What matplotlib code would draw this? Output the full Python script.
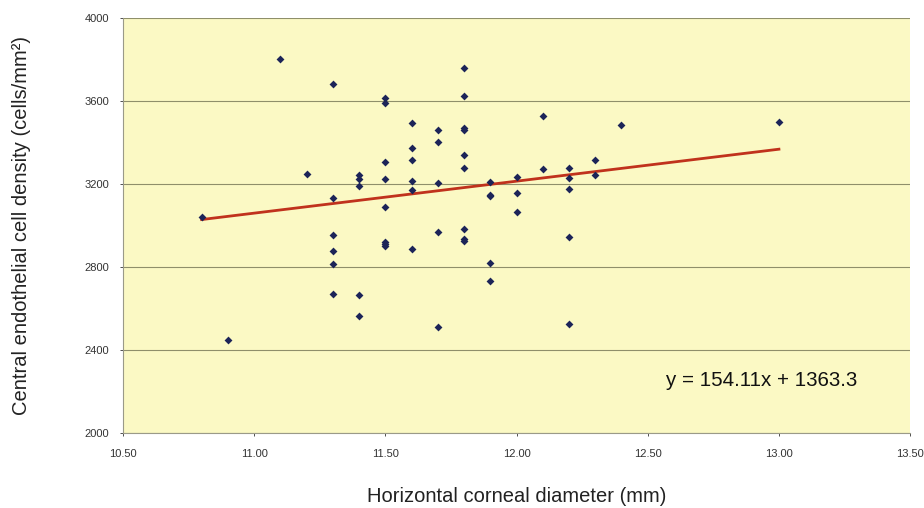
"""
Central endothelial cell density vs horizontal corneal diameter
"""
import matplotlib
matplotlib.use('Agg')
import matplotlib.pyplot as plt

plt.rcParams['font.family'] = ['Liberation Sans', 'DejaVu Sans']

# Horizontal corneal diameter (mm) and cell density (cells/mm2)
diameter = [10.8, 10.9, 11.1, 11.2,
            11.3, 11.3, 11.3, 11.3, 11.3, 11.3,
            11.4, 11.4, 11.4, 11.4, 11.4,
            11.5, 11.5, 11.5, 11.5, 11.5, 11.5, 11.5, 11.5,
            11.6, 11.6, 11.6, 11.6, 11.6, 11.6,
            11.7, 11.7, 11.7, 11.7, 11.7,
            11.8, 11.8, 11.8, 11.8, 11.8, 11.8, 11.8, 11.8, 11.8,
            11.9, 11.9, 11.9, 11.9, 11.9,
            12.0, 12.0, 12.0,
            12.1, 12.1,
            12.2, 12.2, 12.2, 12.2, 12.2,
            12.3, 12.3,
            12.4, 13.0]
density = [3040, 2448, 3802, 3248,
           3682, 3133, 2951, 2874, 2813, 2671,
           3243, 3223, 3190, 2662, 2564,
           3613, 3589, 3306, 3223, 3086, 2918, 2908, 2900,
           3494, 3373, 3316, 3212, 3170, 2885,
           3457, 3399, 3206, 2969, 2510,
           3757, 3621, 3468, 3457, 3340, 3277, 2982, 2933, 2925,
           3207, 3147, 3140, 2819, 2731,
           3232, 3158, 3062,
           3526, 3272,
           3276, 3228, 3175, 2943, 2522,
           3314, 3240,
           3484, 3497]

# linear trend shown on the chart
slope = 154.11
intercept = 1363.3
trend_x = [min(diameter), max(diameter)]
trend_y = [slope * x + intercept for x in trend_x]

x_ticks = [10.5, 11.0, 11.5, 12.0, 12.5, 13.0, 13.5]
y_ticks = [2000, 2400, 2800, 3200, 3600, 4000]

fig = plt.figure(figsize=(9.24, 5.08), dpi=100)
ax = fig.add_axes([0.133, 0.148, 0.852, 0.817])
ax.set_facecolor('#fbf9c4')

ax.scatter(diameter, density, marker='D', s=16, color='#1c2458', zorder=3, linewidths=0)
ax.plot(trend_x, trend_y, color='#c0321c', linewidth=2, zorder=2)

ax.set_xlim(10.5, 13.5)
ax.set_ylim(2000, 4000)
ax.set_xticks(x_ticks)
ax.set_xticklabels([f'{t:.2f}' for t in x_ticks])
ax.set_yticks(y_ticks)
ax.tick_params(labelsize=8, colors='#333333', length=2, width=0.6)
ax.tick_params(axis='x', pad=10)
ax.tick_params(axis='y', pad=8)

ax.grid(axis='y', color='#8f8f6a', linewidth=0.8)
ax.set_axisbelow(True)
for side in ['right', 'top']:
    ax.spines[side].set_visible(False)
for side in ['left', 'bottom']:
    ax.spines[side].set_color('#9a9a88')
    ax.spines[side].set_linewidth(0.8)

ax.text(12.57, 2250, 'y = 154.11x + 1363.3', fontsize=14.8, color='#111111',
        ha='left', va='center')

ax.set_xlabel('Horizontal corneal diameter (mm)', fontsize=14.5, color='#222222', labelpad=20)
ax.set_ylabel('Central endothelial cell density (cells/mm²)', fontsize=14.5,
              color='#222222', labelpad=38)

plt.savefig('out.png', dpi=100)
